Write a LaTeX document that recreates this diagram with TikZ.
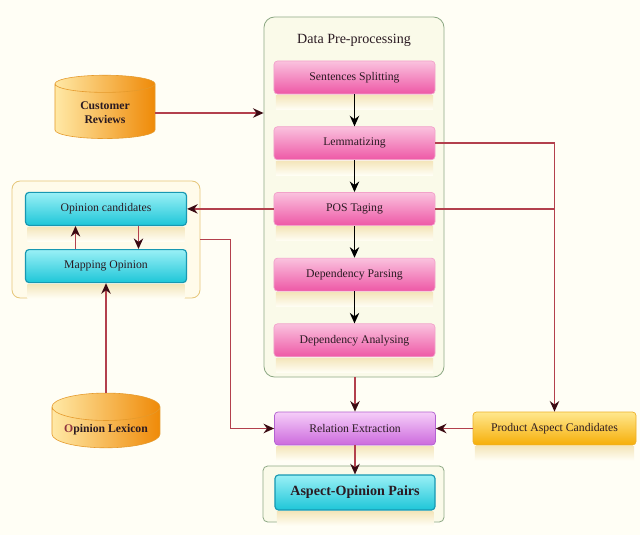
\documentclass[tikz,border=0pt]{standalone}
\usepackage{fontspec}
\setmainfont{Liberation Serif}
\usepackage{xcolor}
\usetikzlibrary{positioning, shapes.geometric, arrows.meta, calc, backgrounds, fit}

\definecolor{bgc}{HTML}{FFFEF5}
\definecolor{prepfill}{HTML}{FAFAE9}
\definecolor{prepedge}{HTML}{8FAA86}
\definecolor{opfill}{HTML}{FFFBEA}
\definecolor{opedge}{HTML}{E6C77A}
\definecolor{pinktop}{HTML}{FAC2DE}
\definecolor{pinkbot}{HTML}{EE58A6}
\definecolor{pinkedge}{HTML}{F2A2CA}
\definecolor{cyantop}{HTML}{9AF0F6}
\definecolor{cyanbot}{HTML}{1EC6D8}
\definecolor{cyanedge}{HTML}{1798B2}
\definecolor{purptop}{HTML}{F6CEF9}
\definecolor{purpbot}{HTML}{CC6ADD}
\definecolor{purpedge}{HTML}{B262D0}
\definecolor{orgtop}{HTML}{FFE88E}
\definecolor{orgbot}{HTML}{F6AE08}
\definecolor{orgedge}{HTML}{EDB028}
\definecolor{cylleft}{HTML}{FFE9A6}
\definecolor{cylright}{HTML}{EF8A08}
\definecolor{cyledge}{HTML}{E59A2C}
\definecolor{refl}{HTML}{F4E6BC}
\definecolor{linered}{HTML}{B3404D}
\definecolor{tipdark}{HTML}{3A0A12}
\definecolor{txtdark}{HTML}{2A1A22}

\begin{document}
\begin{tikzpicture}[
	x=0.03cm, y=-0.03cm,
	font=\fontsize{10}{12}\selectfont,
	% Define styles for the blocks
	box/.style={
		minimum width=4.83cm,
		minimum height=0.99cm,
		inner sep=2pt,
		align=center,
		rounded corners=3pt,
		text=txtdark,
		line width=0.6pt
	},
	pinkbox/.style={box, draw=pinkedge, top color=pinktop, bottom color=pinkbot},
	cyanbox/.style={box, draw=cyanedge, line width=1pt, top color=cyantop, bottom color=cyanbot},
	purpbox/.style={box, draw=purpedge, top color=purptop, bottom color=purpbot},
	orgbox/.style={box, draw=orgedge, top color=orgtop, bottom color=orgbot},
	store/.style={
		cylinder, shape border rotate=90, aspect=0.3,
		draw=cyledge, line width=0.5pt,
		left color=cylleft, right color=cylright,
		font=\fontsize{10}{12}\selectfont\bfseries,
		align=center, text=txtdark
	},
	frame/.style={rounded corners=9pt, line width=0.7pt},
	flow/.style={draw=black, line width=1.4pt, -{Stealth[length=9pt, width=8pt]}},
	relarrow/.style={draw=linered, line width=1.4pt, -{Stealth[length=9pt, width=8pt, color=tipdark]}},
	relline/.style={draw=linered, line width=1.4pt}
	]
	
	\fill[bgc] (0,0) rectangle (640,535);
	\useasboundingbox (0,0) rectangle (640,535);
	
	% --- 1. DATA PRE-PROCESSING ---
	\node[frame, draw=prepedge, fill=prepfill, minimum width=5.4cm, minimum height=10.8cm] (prep_box) at (354,197) {};
	\node[font=\fontsize{12}{14}\selectfont, text=txtdark] (prep_title) at (354,40) {Data Pre-processing};
	\node[pinkbox] (split) at (354.5,77.5) {Sentences Splitting};
	\node[pinkbox, below=0.96cm of split] (lemma) {Lemmatizing};
	\node[pinkbox, below=0.96cm of lemma] (pos) {POS Taging};
	\node[pinkbox, below=0.96cm of pos] (parse) {Dependency Parsing};
	\node[pinkbox, below=0.96cm of parse] (analyse) {Dependency Analysing};
	
	% --- 2. OPINION SIDE ---
	\node[frame, rounded corners=7pt, draw=opedge, fill=opfill, minimum width=5.64cm, minimum height=3.51cm] (op_box) at (106,239.5) {};
	\node[cyanbox] (cand) at (pos -| op_box) {Opinion candidates};
	\node[cyanbox, below=0.69cm of cand] (mapping) {Mapping Opinion};
	
	% --- 3. SOURCES ---
	\node[store, minimum width=3cm, minimum height=1.9cm] (reviews) at (105,113) {Customer\\ Reviews};
	\node[store, minimum width=3.24cm, minimum height=1.4cm] (lexicon) at (mapping |- 0,430) {\textcolor{linered!80!black}{O}pinion Lexicon};
	
	% --- 4. EXTRACTION AND OUTPUT ---
	\node[purpbox] (relation) at (355,428.5) {Relation Extraction};
	\node[orgbox, minimum width=4.89cm] (aspects) at (554.5,428.5) {Product Aspect Candidates};
	\node[frame, rounded corners=4pt, draw=prepedge, fill=prepfill, minimum width=5.43cm, minimum height=1.68cm] (pair_box) at (353.5,494) {};
	\node[cyanbox, minimum width=4.8cm, minimum height=1.05cm, font=\fontsize{12}{14}\selectfont\bfseries] (pairs) at (355,492.5) {Aspect-Opinion Pairs};
	
	% Reflections under the blocks
	\foreach \n in {split, lemma, pos, parse, analyse, cand, mapping, relation, aspects, pairs}
	\shade[top color=refl, bottom color=bgc] ([xshift=2pt, yshift=-1pt]\n.south west) rectangle ([xshift=-2pt, yshift=-13pt]\n.south east);
	
	% Pipeline arrows
	\draw[flow] (split) -- (lemma);
	\draw[flow] (lemma) -- (pos);
	\draw[flow] (pos) -- (parse);
	\draw[flow] (parse) -- (analyse);
	
	% Inputs
	\draw[relarrow] (reviews.east) -- (reviews.east -| prep_box.west);
	\draw[relarrow] (lexicon.north) -- (mapping.south);
	\draw[relarrow] (pos.west) -- (cand.east);
	\draw[relarrow] ([xshift=-0.915cm]mapping.north) -- ([xshift=-0.915cm]cand.south);
	\draw[relarrow] ([xshift=0.975cm]cand.south) -- ([xshift=0.975cm]mapping.north);
	
	% Aspect candidates
	\draw[relarrow] (lemma.east) -| (aspects.north);
	\draw[relline] (pos.east) -- (pos.east -| aspects.north);
	
	% Relation extraction
	\draw[relarrow] (op_box.east) -- ++(30,0) |- (relation.west);
	\draw[relarrow] (prep_box.south -| relation.north) -- (relation.north);
	\draw[relarrow] (aspects.west) -- (relation.east);
	\draw[relarrow] (relation.south) -- (pairs.north);
	
\end{tikzpicture}
\end{document}
